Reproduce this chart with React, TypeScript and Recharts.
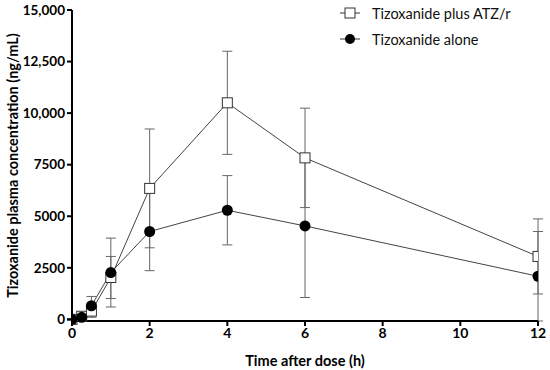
import React from "react";
import {
  ComposedChart,
  Line,
  XAxis,
  YAxis,
  ErrorBar,
} from "recharts";

const times = [0, 0.25, 0.5, 1, 2, 4, 6, 12];
const withAtz = [0, 150, 400, 2030, 6350, 10500, 7830, 3050];
const withAtzSd = [40, 80, 300, 1020, 2880, 2500, 2410, 1820];
const alone = [0, 100, 660, 2270, 4260, 5290, 4530, 2090];
const aloneSd = [40, 60, 450, 1670, 1900, 1680, 3470, 2170];

const xTicks = [0, 2, 4, 6, 8, 10, 12];
const yTicks = [0, 2500, 5000, 7500, 10000, 12500, 15000];

const data = times.map((t, i) => ({
  time: t,
  atz: withAtz[i],
  atzErr: withAtzSd[i],
  alone: alone[i],
  aloneErr: aloneSd[i],
}));

const FONT = "Lato, 'Open Sans', sans-serif";

const yFormat = (v: number) => (v >= 10000 ? v.toLocaleString("en-US") : String(v));

const SquareDot = (props: any) => {
  const { cx, cy } = props;
  if (cx == null || cy == null) return null;
  return <rect x={cx - 5} y={cy - 5} width={10} height={10} fill="#fff" stroke="#333" strokeWidth={1} />;
};

const CircleDot = (props: any) => {
  const { cx, cy } = props;
  if (cx == null || cy == null) return null;
  return <circle cx={cx} cy={cy} r={5.5} fill="#000" />;
};

const LegendBox = () => (
  <div
    style={{
      position: "absolute",
      left: 339,
      top: 0,
      fontFamily: FONT,
      fontSize: 14.5,
      color: "#111",
    }}
  >
    <div style={{ display: "flex", alignItems: "center", height: 26 }}>
      <svg width={22} height={14} style={{ marginRight: 11 }}>
        <line x1={1} y1={7} x2={21} y2={7} stroke="#333" strokeWidth={1} />
        <rect x={6} y={2} width={10} height={10} fill="#fff" stroke="#333" strokeWidth={1} />
      </svg>
      Tizoxanide plus ATZ/r
    </div>
    <div style={{ display: "flex", alignItems: "center", height: 26 }}>
      <svg width={22} height={14} style={{ marginRight: 11 }}>
        <line x1={1} y1={7} x2={21} y2={7} stroke="#333" strokeWidth={1} />
        <circle cx={11} cy={7} r={5} fill="#000" />
      </svg>
      Tizoxanide alone
    </div>
  </div>
);

export default function App() {
  return (
    <div style={{ position: "absolute", left: 0, top: 0, width: 550, height: 370, background: "#fff" }}>
      <ComposedChart
        width={550}
        height={370}
        data={data}
        margin={{ top: 10, right: 12, left: 0, bottom: 0 }}
      >
        <XAxis
          dataKey="time"
          type="number"
          domain={[0, 12]}
          ticks={xTicks}
          allowDataOverflow
          axisLine={{ stroke: "#000", strokeWidth: 2 }}
          tickLine={{ stroke: "#000", strokeWidth: 2 }}
          tickSize={5}
          tick={{ fill: "#000", fontSize: 14, fontWeight: 700, fontFamily: FONT }}
          height={49}
          label={{
            value: "Time after dose (h)",
            position: "insideBottom",
            offset: 4,
            fill: "#000",
            fontSize: 14.5,
            fontWeight: 700,
            fontFamily: FONT,
          }}
        />
        <YAxis
          type="number"
          domain={[0, 15000]}
          ticks={yTicks}
          tickFormatter={yFormat}
          width={72}
          axisLine={{ stroke: "#000", strokeWidth: 2 }}
          tickLine={{ stroke: "#000", strokeWidth: 2 }}
          tickSize={5}
          tick={{ fill: "#000", fontSize: 13.5, fontWeight: 700, fontFamily: FONT }}
          label={{
            value: "Tizoxanide plasma concentration (ng/mL)",
            angle: -90,
            position: "insideLeft",
            offset: 0,
            dx: 13,
            style: { textAnchor: "middle" },
            fill: "#000",
            fontSize: 14.5,
            fontWeight: 700,
            fontFamily: FONT,
          }}
        />
        <Line
          dataKey="atz"
          stroke="#444"
          strokeWidth={1}
          dot={<SquareDot />}
          activeDot={false}
          isAnimationActive={false}
        >
          <ErrorBar dataKey="atzErr" direction="y" width={5} stroke="#666" strokeWidth={1} />
        </Line>
        <Line
          dataKey="alone"
          stroke="#444"
          strokeWidth={1}
          dot={<CircleDot />}
          activeDot={false}
          isAnimationActive={false}
        >
          <ErrorBar dataKey="aloneErr" direction="y" width={5} stroke="#666" strokeWidth={1} />
        </Line>
      </ComposedChart>
      <LegendBox />
    </div>
  );
}
